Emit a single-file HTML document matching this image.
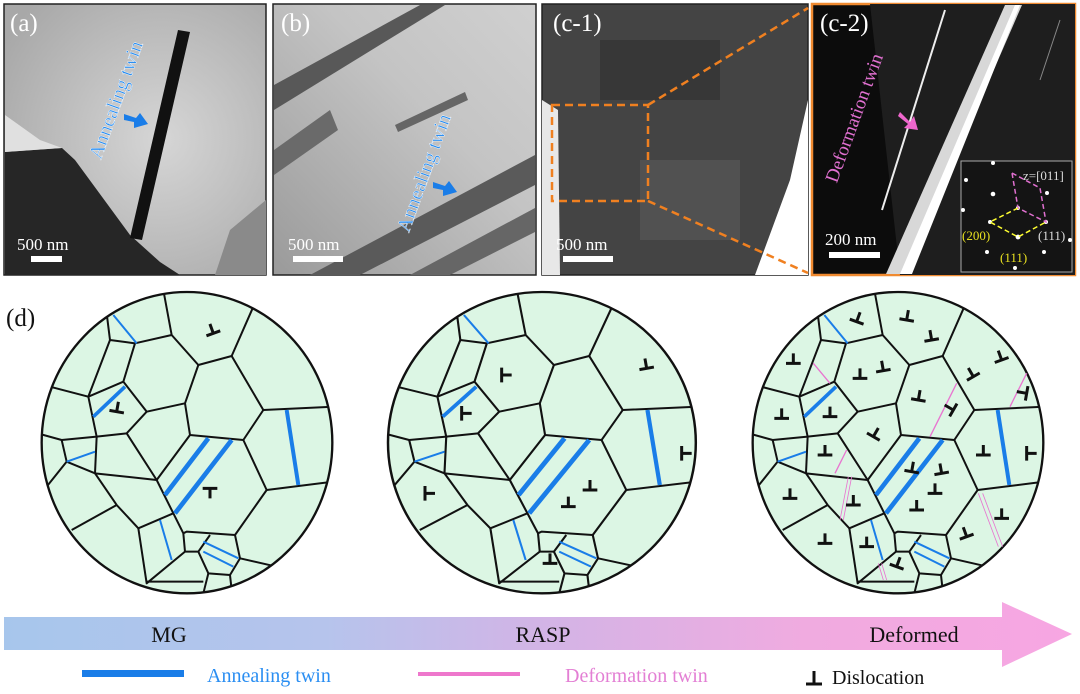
<!DOCTYPE html>
<html><head><meta charset="utf-8"><style>
html,body{margin:0;padding:0;background:#fff;}
svg{display:block;}
text{font-family:"Liberation Serif",serif;}
</style></head><body>
<svg width="1080" height="694" viewBox="0 0 1080 694" xmlns="http://www.w3.org/2000/svg">
<defs>
<linearGradient id="ar" x1="0" x2="1" y1="0" y2="0">
<stop offset="0" stop-color="#a7c6ec"/><stop offset="0.3" stop-color="#b6c4ec"/><stop offset="0.5" stop-color="#d2b4e6"/><stop offset="0.75" stop-color="#f0abe0"/><stop offset="1" stop-color="#f7a6e2"/>
</linearGradient>
<radialGradient id="ga" cx="0.6" cy="0.5" r="0.7"><stop offset="0" stop-color="#d6d6d6"/><stop offset="1" stop-color="#a8a8a8"/></radialGradient>
<linearGradient id="gb" x1="0" x2="1" y1="1" y2="0"><stop offset="0" stop-color="#9a9a9a"/><stop offset="0.6" stop-color="#c4c4c4"/><stop offset="1" stop-color="#d0d0d0"/></linearGradient>
<g id="dl"><path d="M-22,0 H22 M0,0 V-30" stroke="#111" stroke-width="9" fill="none"/></g>
<clipPath id="cc"><ellipse cx="561" cy="488" rx="436" ry="452"/></clipPath>
<g id="net">
<ellipse cx="561" cy="488" rx="436" ry="452" fill="#dcf6e4"/>
<g clip-path="url(#cc)" stroke="#111" stroke-width="6" fill="none" stroke-linejoin="round">
<polyline points="490,30 515,165 595,255 695,228 760,80"/>
<polyline points="320,100 330,180 405,190 515,165"/>
<polyline points="330,180 265,350 370,305 405,190"/>
<polyline points="150,320 265,350"/>
<polyline points="370,305 440,395 555,370 595,255"/>
<polyline points="695,228 790,390 1000,380"/>
<polyline points="790,390 730,480 570,465 555,370"/>
<polyline points="440,395 380,460 290,470 265,350"/>
<polyline points="120,462 185,480 290,470"/>
<polyline points="185,480 200,545 140,620"/>
<polyline points="200,545 285,580 290,470"/>
<polyline points="285,580 470,600 570,465"/>
<polyline points="380,460 470,600 520,700 550,760 555,815"/>
<polyline points="730,480 800,630 1000,605"/>
<polyline points="800,630 705,765 560,755 550,760"/>
<polyline points="285,580 350,675 415,745 520,700"/>
<polyline points="350,675 215,750"/>
<polyline points="415,745 440,910 555,815 595,815 630,765"/>
<polyline points="595,815 625,880 690,885 720,835 705,765"/>
<polyline points="720,835 830,860"/>
<polyline points="690,885 695,930"/>
<polyline points="625,880 610,940"/>
<polyline points="440,905 610,905"/>
<g stroke="#1a7de8">
<line x1="340" y1="105" x2="410" y2="190" stroke-width="6"/>
<line x1="280" y1="410" x2="375" y2="320" stroke-width="11"/>
<line x1="200" y1="545" x2="285" y2="515" stroke-width="6"/>
<line x1="495" y1="645" x2="625" y2="475" stroke-width="14"/>
<line x1="525" y1="700" x2="695" y2="480" stroke-width="14"/>
<line x1="860" y1="390" x2="895" y2="615" stroke-width="12"/>
<line x1="480" y1="720" x2="515" y2="840" stroke-width="6"/>
<line x1="610" y1="785" x2="715" y2="835" stroke-width="6"/>
<line x1="610" y1="815" x2="700" y2="860" stroke-width="6"/>
</g>
</g>
<ellipse cx="561" cy="488" rx="436" ry="452" fill="none" stroke="#111" stroke-width="7"/>
</g>
</defs>

<!-- Panel a -->
<rect x="4" y="4" width="262" height="271" fill="url(#ga)" stroke="#222" stroke-width="1.5"/>
<polygon points="5,152 62,148 75,160 130,235 160,262 180,275 5,275" fill="#262626"/>
<polygon points="5,115 40,140 62,148 5,152" fill="#e0e0e0"/>
<polygon points="178,30 190,32 142,240 130,238" fill="#111"/>
<polygon points="230,230 266,200 266,275 215,275" fill="#8a8a8a"/>
<text x="10" y="31" font-size="25" fill="#fff">(a)</text>
<text x="17" y="250" font-size="17" fill="#fff">500 nm</text>
<rect x="31" y="256" width="31" height="6" fill="#fff"/>
<text transform="translate(122,102) rotate(-70)" text-anchor="middle" font-size="20" fill="#2a8ef2" stroke="#fff" stroke-width="0.4">Annealing twin</text>
<polygon points="124,114 136,118 140,113 148,124 134,128 134,122 124,120" fill="#1a7de8"/>

<!-- Panel b -->
<rect x="273" y="4" width="263" height="271" fill="url(#gb)" stroke="#222" stroke-width="1.5"/>
<polygon points="274,85 420,5 445,5 274,110" fill="#585858"/>
<polygon points="274,150 330,110 338,130 274,175" fill="#6a6a6a"/>
<polygon points="310,275 535,155 535,185 360,275" fill="#5a5a5a"/>
<polygon points="410,275 535,208 535,232 450,275" fill="#666"/>
<polygon points="395,125 465,92 468,100 398,132" fill="#666"/>
<text x="281" y="31" font-size="25" fill="#fff">(b)</text>
<text x="288" y="250" font-size="17" fill="#fff">500 nm</text>
<rect x="293" y="256" width="50" height="6" fill="#fff"/>
<text transform="translate(430,175) rotate(-70)" text-anchor="middle" font-size="20" fill="#2a8ef2" stroke="#fff" stroke-width="0.4">Annealing twin</text>
<polygon points="433,182 445,186 449,181 457,192 443,196 443,190 433,188" fill="#1a7de8"/>

<!-- Panel c-1 -->
<rect x="542" y="4" width="266" height="271" fill="#444" stroke="#222" stroke-width="1.5"/>
<polygon points="542,100 558,110 560,275 542,275" fill="#e8e8e8"/>
<polygon points="808,100 808,275 755,275 790,180" fill="#fff"/>
<rect x="600" y="40" width="120" height="60" fill="#2e2e2e" opacity="0.6"/>
<rect x="640" y="160" width="100" height="80" fill="#666" opacity="0.4"/>
<text x="553" y="31" font-size="25" fill="#fff">(c-1)</text>
<text x="556" y="250" font-size="17" fill="#fff">500 nm</text>
<rect x="563" y="256" width="50" height="6" fill="#fff"/>
<rect x="552" y="105" width="96" height="96" fill="none" stroke="#f08020" stroke-width="2.5" stroke-dasharray="8,5"/>
<line x1="648" y1="105" x2="808" y2="8" stroke="#f08020" stroke-width="2.5" stroke-dasharray="8,5"/>
<line x1="648" y1="201" x2="808" y2="273" stroke="#f08020" stroke-width="2.5" stroke-dasharray="8,5"/>

<!-- Panel c-2 -->
<rect x="812" y="4" width="263" height="271" fill="#0c0c0c" stroke="#f08a30" stroke-width="2.5"/>
<polygon points="870,4 1075,4 1075,275 900,275" fill="#1e1e1e"/>
<polygon points="1005,5 1022,5 905,274 886,274" fill="#d8d8d8"/>
<polygon points="1015,5 1020,5 912,274 900,274" fill="#fff"/>
<line x1="945" y1="10" x2="882" y2="210" stroke="#eee" stroke-width="2"/>
<line x1="1060" y1="20" x2="1040" y2="80" stroke="#888" stroke-width="1"/>
<text x="820" y="31" font-size="25" fill="#fff">(c-2)</text>
<text x="825" y="245" font-size="17" fill="#fff">200 nm</text>
<rect x="829" y="252" width="51" height="6" fill="#fff"/>
<text transform="translate(860,120) rotate(-70)" text-anchor="middle" font-size="19" fill="#e070d0">Deformation twin</text>
<polygon points="900,112 910,122 914,116 918,130 904,128 908,124 898,116" fill="#ee66cc"/>
<rect x="961" y="161" width="111" height="111" fill="#141414" stroke="#aaa" stroke-width="1"/>
<g fill="#fff">
<circle cx="966" cy="180" r="2"/><circle cx="993" cy="163" r="2"/><circle cx="993" cy="194" r="2.3"/><circle cx="1047" cy="193" r="2"/><circle cx="1018" cy="208" r="2"/><circle cx="963" cy="210" r="2"/><circle cx="990" cy="222" r="2"/><circle cx="1046" cy="222" r="2"/><circle cx="1018" cy="237" r="2.4"/><circle cx="987" cy="252" r="2"/><circle cx="1044" cy="252" r="2"/><circle cx="1015" cy="268" r="2"/><circle cx="1070" cy="240" r="2"/>
</g>
<polyline points="1012,173 1040,188 1046,222 1018,208 1012,173" fill="none" stroke="#e070d0" stroke-width="1.5" stroke-dasharray="5,3"/>
<polyline points="1018,208 990,222 1018,237 1046,222" fill="none" stroke="#ffff30" stroke-width="1.5" stroke-dasharray="5,3"/>
<text x="1023" y="180" font-size="13" fill="#ddd">z=[011]</text>
<text x="962" y="240" font-size="13" fill="#e8e020">(200)</text>
<text x="1000" y="262" font-size="13" fill="#e8e020">(111)</text>
<text x="1038" y="240" font-size="13" fill="#ddd">(111)</text>

<!-- (d) -->
<text x="6" y="326" font-size="25" fill="#111">(d)</text>
<g transform="translate(0,280) scale(0.33333)">
<use href="#net"/>
<g transform="translate(1164,0) scale(1.059,1) translate(-125,0)"><use href="#net"/></g>
<use href="#net" transform="translate(2133,0)"/>
<use href="#dl" transform="translate(640,160) rotate(-20)"/>
<use href="#dl" transform="translate(350,395) rotate(10)"/>
<use href="#dl" transform="translate(630,625) rotate(180)"/>
<use href="#dl" transform="translate(1505,285) rotate(90)"/>
<use href="#dl" transform="translate(1385,400) rotate(90)"/>
<use href="#dl" transform="translate(1275,640) rotate(90)"/>
</g>
<g transform="translate(540,280) scale(0.33333)">
<use href="#dl" transform="translate(320,265) rotate(-10)"/>
<use href="#dl" transform="translate(425,520) rotate(90)"/>
<use href="#dl" transform="translate(150,630) rotate(0)"/>
<use href="#dl" transform="translate(85,680) rotate(0)"/>
<use href="#dl" transform="translate(30,850) rotate(0)"/>
<g stroke="#e875d0" stroke-width="4" fill="none">
<line x1="820" y1="250" x2="870" y2="310"/>
<line x1="1250" y1="310" x2="1170" y2="470"/>
<line x1="1460" y1="280" x2="1410" y2="380"/>
<line x1="920" y1="510" x2="885" y2="580"/>
<line x1="925" y1="590" x2="900" y2="720" stroke-width="2.5"/>
<line x1="935" y1="590" x2="910" y2="720" stroke-width="2.5"/>
<line x1="1315" y1="640" x2="1375" y2="800" stroke-width="2.5"/>
<line x1="1328" y1="640" x2="1388" y2="800" stroke-width="2.5"/>
<line x1="1015" y1="850" x2="1030" y2="900" stroke-width="2.5"/>
<line x1="1025" y1="850" x2="1040" y2="900" stroke-width="2.5"/>
</g>
<use href="#dl" transform="translate(950,125) rotate(20)"/>
<use href="#dl" transform="translate(1100,120) rotate(10)"/>
<use href="#dl" transform="translate(1175,180) rotate(-10)"/>
<use href="#dl" transform="translate(760,250)"/>
<use href="#dl" transform="translate(960,295)"/>
<use href="#dl" transform="translate(1030,272) rotate(-10)"/>
<use href="#dl" transform="translate(1300,290) rotate(-30)"/>
<use href="#dl" transform="translate(1385,240) rotate(-20)"/>
<use href="#dl" transform="translate(725,415)"/>
<use href="#dl" transform="translate(870,410)"/>
<use href="#dl" transform="translate(1135,360) rotate(10)"/>
<use href="#dl" transform="translate(1240,390) rotate(-60)"/>
<use href="#dl" transform="translate(1460,340) rotate(-80)"/>
<use href="#dl" transform="translate(1000,470) rotate(30)"/>
<use href="#dl" transform="translate(855,525)"/>
<use href="#dl" transform="translate(1115,575) rotate(10)"/>
<use href="#dl" transform="translate(1205,580) rotate(-10)"/>
<use href="#dl" transform="translate(1185,640)"/>
<use href="#dl" transform="translate(1130,690)"/>
<use href="#dl" transform="translate(1330,525)"/>
<use href="#dl" transform="translate(1460,520) rotate(90)"/>
<use href="#dl" transform="translate(940,675)"/>
<use href="#dl" transform="translate(750,655)"/>
<use href="#dl" transform="translate(855,790)"/>
<use href="#dl" transform="translate(980,800)"/>
<use href="#dl" transform="translate(1070,860) rotate(20)"/>
<use href="#dl" transform="translate(1280,770) rotate(-20)"/>
<use href="#dl" transform="translate(1385,715)"/>
</g>

<!-- arrow -->
<polygon points="4,617 1002,617 1002,602 1072,634 1002,667 1002,650 4,650" fill="url(#ar)"/>
<text x="169" y="642" font-size="22" text-anchor="middle" fill="#111">MG</text>
<text x="543" y="642" font-size="22" text-anchor="middle" fill="#111">RASP</text>
<text x="914" y="642" font-size="22" text-anchor="middle" fill="#111">Deformed</text>

<!-- legend -->
<rect x="82" y="670" width="102" height="7" fill="#1a7de8"/>
<text x="207" y="682" font-size="20" fill="#2a8ef2">Annealing twin</text>
<rect x="418" y="672" width="102" height="4" fill="#ee77cc"/>
<text x="565" y="682" font-size="20" fill="#e37fd4">Deformation twin</text>
<path d="M806,684 H822 M814,684 V671" stroke="#111" stroke-width="3" fill="none"/>
<text x="832" y="684" font-size="20" fill="#111">Dislocation</text>
</svg>
</body></html>
